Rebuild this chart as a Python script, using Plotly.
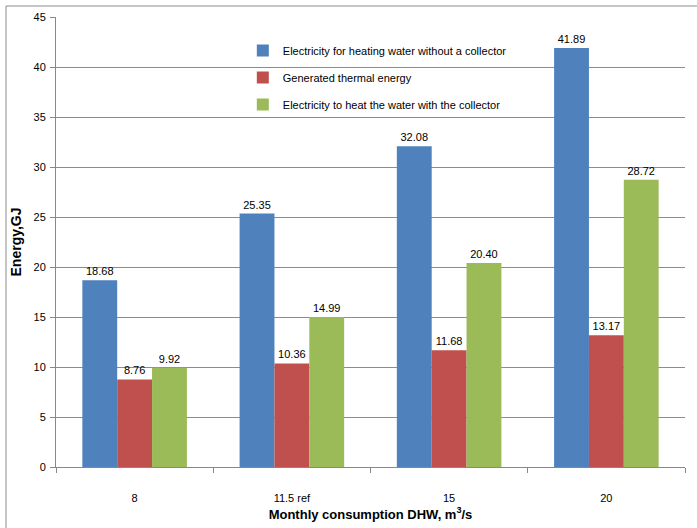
import plotly.graph_objects as go

categories = ["8", "11.5 ref", "15", "20"]
without_collector = [18.68, 25.35, 32.08, 41.89]
thermal_energy = [8.76, 10.36, 11.68, 13.17]
with_collector = [9.92, 14.99, 20.40, 28.72]

series = [
    ("Electricity for heating water without a collector", without_collector, "#4F81BD"),
    ("Generated thermal energy", thermal_energy, "#C0504D"),
    ("Electricity to heat the water with the collector", with_collector, "#9BBB59"),
]

fig = go.Figure()
for i, (name, vals, color) in enumerate(series):
    fig.add_trace(go.Bar(
        x=categories, y=vals, name=name, marker_color=color,
        marker_line_width=0,
        text=[f"{v:.2f}" for v in vals], textposition="outside",
        textfont=dict(size=11, color="#000000"),
        cliponaxis=False, legendgroup=f"g{i}",
    ))

fig.update_layout(
    width=697, height=528,
    margin=dict(l=56, r=12, t=17, b=61),
    paper_bgcolor="white", plot_bgcolor="white",
    font=dict(family="Liberation Sans, Arial, sans-serif", size=11, color="#000000"),
    barmode="group", bargap=0.335, bargroupgap=0,
    showlegend=True,
    legend=dict(x=0.297, y=0.958, xanchor="left", yanchor="top",
                bgcolor="rgba(0,0,0,0)", font=dict(size=11),
                tracegroupgap=8, traceorder="grouped",
                itemwidth=30),
    xaxis=dict(
        showline=True, linecolor="#888888", linewidth=1,
        ticks="outside", ticklen=5, tickcolor="#888888", tickson="boundaries",
        ticklabelstandoff=21, automargin=False,
        title=dict(text="<b>Monthly consumption DHW, m<sup>3</sup>/s</b>",
                   font=dict(size=13), standoff=6),
    ),
    yaxis=dict(
        range=[0, 45], dtick=5, showgrid=True, gridcolor="#8c8c8c", gridwidth=1,
        showline=True, linecolor="#888888", linewidth=1,
        ticks="outside", ticklen=5, tickcolor="#888888",
        zeroline=False, ticklabelstandoff=2,
        title=dict(text="<b>Energy,GJ</b>", font=dict(size=14), standoff=8),
    ),
    shapes=[
        dict(type="line", xref="paper", yref="paper",
             x0=-50 / 629, x1=-50 / 629, y0=-61 / 450, y1=1 + 11 / 450,
             line=dict(color="#8c8c8c", width=1)),
        dict(type="line", xref="paper", yref="paper",
             x0=-50 / 629, x1=1 + 12 / 629, y0=1 + 11 / 450, y1=1 + 11 / 450,
             line=dict(color="#8c8c8c", width=1)),
    ],
)

fig.write_html("out.html")
